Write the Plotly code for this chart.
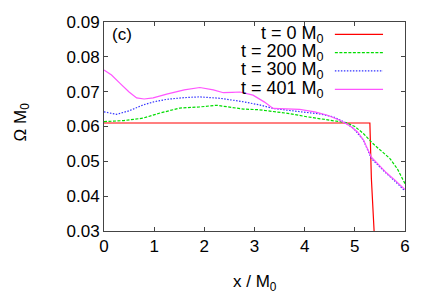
import plotly.graph_objects as go

# data
x_t0 = [0.0, 5.30, 5.33, 5.38, 5.42]
y_t0 = [0.061, 0.061, 0.045, 0.030, 0.020]

x_t200 = [0.0, 0.40, 0.78, 1.10, 1.51, 1.90, 2.24, 2.50, 2.78, 3.10, 3.37, 3.70, 4.04, 4.40, 4.70, 4.83, 5.00, 5.17, 5.36, 5.55, 5.70, 5.85, 6.0]
y_t200 = [0.0614, 0.0617, 0.0624, 0.0638, 0.0653, 0.0656, 0.0661, 0.0655, 0.0650, 0.0648, 0.0644, 0.0637, 0.0628, 0.0620, 0.0614, 0.0611, 0.0600, 0.0580, 0.0551, 0.0528, 0.0508, 0.0478, 0.0436]

x_t300 = [0.0, 0.25, 0.50, 0.78, 1.00, 1.25, 1.60, 1.91, 2.31, 2.78, 3.10, 3.37, 3.70, 4.04, 4.30, 4.57, 4.77, 4.97, 5.17, 5.33, 5.50, 5.63, 5.80, 6.0]
y_t300 = [0.0642, 0.0635, 0.0645, 0.0662, 0.0671, 0.0678, 0.0683, 0.0685, 0.0681, 0.0671, 0.0662, 0.0652, 0.0646, 0.0641, 0.0636, 0.0628, 0.0614, 0.0595, 0.0561, 0.0508, 0.0483, 0.0465, 0.0443, 0.0415]

x_t401 = [0.0, 0.15, 0.32, 0.50, 0.65, 0.80, 0.98, 1.25, 1.60, 1.91, 2.18, 2.38, 2.55, 2.71, 2.97, 3.20, 3.37, 3.60, 3.90, 4.20, 4.44, 4.70, 4.90, 5.05, 5.17, 5.33, 5.50, 5.63, 5.80, 6.0]
y_t401 = [0.0762, 0.0748, 0.0724, 0.0699, 0.0682, 0.0679, 0.0682, 0.0693, 0.0705, 0.0712, 0.0705, 0.0697, 0.0698, 0.0699, 0.0690, 0.0670, 0.0652, 0.0650, 0.0649, 0.0642, 0.0633, 0.0618, 0.0602, 0.0585, 0.0562, 0.0512, 0.0486, 0.0467, 0.0446, 0.0419]

legend_labels = ["t = 0 M<sub>0</sub>", "t = 200 M<sub>0</sub>", "t = 300 M<sub>0</sub>", "t = 401 M<sub>0</sub>"]
colors = ["#ff0000", "#00dd00", "#3333ff", "#ff55ff"]
dashes = ["solid", "3px,1.5px", "1.5px,1.5px", "solid"]

x_ticks = [0, 1, 2, 3, 4, 5, 6]
y_ticks = [0.03, 0.04, 0.05, 0.06, 0.07, 0.08, 0.09]
y_ticktext = ["0.03", "0.04", "0.05", "0.06", "0.07", "0.08", "0.09"]
x_title = "x / M<sub>0</sub>"
y_title = "Ω M<sub>0</sub>"
panel_label = "(c)"

xs = [x_t0, x_t200, x_t300, x_t401]
ys = [y_t0, y_t200, y_t300, y_t401]

FONT = "Liberation Sans, Arial, sans-serif"

fig = go.Figure()
for xv, yv, c, d, lab in zip(xs, ys, colors, dashes, legend_labels):
    fig.add_trace(go.Scatter(x=xv, y=yv, mode="lines", name=lab,
                             line=dict(color=c, width=1.2, dash=d),
                             showlegend=False))

# legend: text left of line sample, as in the reference
row_y = [0.941, 0.853, 0.766, 0.678]
for lab, c, d, yy in zip(legend_labels, colors, dashes, row_y):
    fig.add_annotation(xref="paper", yref="paper", x=0.738, y=yy,
                       text=lab, showarrow=False, xanchor="right", yanchor="middle",
                       font=dict(family=FONT, size=18, color="black"))
    fig.add_shape(type="line", xref="paper", yref="paper",
                  x0=0.767, x1=0.927, y0=yy, y1=yy,
                  line=dict(color=c, width=1.2, dash=d))

fig.add_annotation(xref="paper", yref="paper", x=0.02, y=0.94, text=panel_label,
                   showarrow=False, xanchor="left", yanchor="middle",
                   font=dict(family=FONT, size=17, color="black"))

# axis titles
fig.add_annotation(xref="paper", yref="paper", x=0.5, y=-0.25, text=x_title,
                   showarrow=False, xanchor="center", yanchor="middle",
                   font=dict(family=FONT, size=17, color="black"))
fig.add_annotation(xref="paper", yref="paper", x=-0.272, y=0.52, text=y_title,
                   showarrow=False, xanchor="center", yanchor="middle", textangle=-90,
                   font=dict(family=FONT, size=17, color="black"))

# page body has an 8px margin, so the figure is sized/offset to compensate
fig.update_layout(
    width=428, height=297,
    margin=dict(l=96, r=31, t=14, b=74),
    paper_bgcolor="white", plot_bgcolor="white",
    font=dict(family=FONT, size=17, color="black"),
)
fig.update_xaxes(range=[0, 6], tickvals=x_ticks, automargin=False,
                 ticks="inside", ticklen=4, tickcolor="#444", mirror="ticks",
                 showline=True, linecolor="#444", linewidth=1, showgrid=False,
                 zeroline=False, tickfont=dict(size=17))
fig.update_yaxes(range=[0.03, 0.09], tickvals=y_ticks, ticktext=y_ticktext,
                 automargin=False,
                 ticks="inside", ticklen=4, tickcolor="#444", mirror="ticks",
                 showline=True, linecolor="#444", linewidth=1, showgrid=False,
                 zeroline=False, tickfont=dict(size=17))

fig.write_html("out.html")
